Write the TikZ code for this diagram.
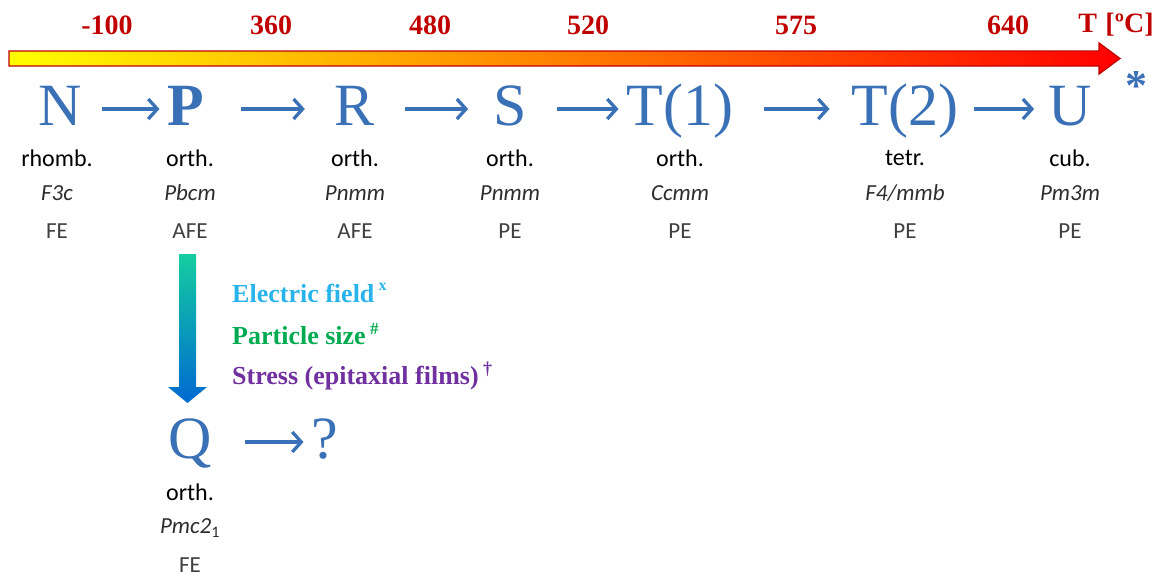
\documentclass[tikz,border=0pt]{standalone}
\usepackage{fontspec}
\setmainfont{Liberation Serif}
\newfontfamily\calfont{Carlito}
\usetikzlibrary{arrows.meta}
\definecolor{myblue}{RGB}{58,112,182}
\definecolor{tred}{RGB}{192,0,0}
\definecolor{efblue}{RGB}{40,180,235}
\definecolor{psgreen}{RGB}{0,170,80}
\definecolor{stpurple}{RGB}{112,48,160}
\definecolor{dgray}{RGB}{45,45,45}
\definecolor{mgray}{RGB}{64,64,64}
\tikzset{
  big/.style={font=\fontsize{60}{60}\selectfont, text=myblue, anchor=base, inner sep=0pt, text height=44pt, text depth=14pt},
  temp/.style={font=\fontsize{28}{28}\bfseries\selectfont, text=tred, inner sep=0pt},
  sys/.style={font=\calfont\fontsize{24}{24}\selectfont, text=black, inner sep=0pt},
  grp/.style={font=\calfont\itshape\fontsize{23}{23}\selectfont, text=dgray, inner sep=0pt},
  fe/.style={font=\calfont\fontsize{23}{23}\selectfont, text=mgray, inner sep=0pt},
  cond/.style={font=\fontsize{26}{26}\bfseries\selectfont, anchor=west, inner sep=0pt},
  arr/.style={draw=myblue, line width=3.3pt, -{Straight Barb[length=9pt,width=20pt,line width=3.3pt]}},
}
\begin{document}
\begin{tikzpicture}[x=1pt,y=-1pt]
\useasboundingbox (0,0) rectangle (1170,581);
% temperature labels
\node[temp] (t1) at (107,25) {-100};
\node[temp] (t2) at (271,25) {360};
\node[temp] (t3) at (430,25) {480};
\node[temp] (t4) at (588,25) {520};
\node[temp] (t5) at (796,25) {575};
\node[temp] (t6) at (1008,25) {640};
\node[temp] (tu) at (1116,25) {T\hspace{0.3em}[ºC]};
% gradient arrow
\shade[left color=yellow, middle color=orange!90!yellow, right color=red, draw=tred, line width=1.3pt]
  (9,51) -- (1099,51) -- (1099,43) -- (1120,58.5) -- (1099,74) -- (1099,66) -- (9,66) -- cycle;
% big letters
\node[big] (N) at (60,125) {N};
\node[big] (P) at (186,125) {\bfseries P};
\node[big] (R) at (355,125) {R};
\node[big] (S) at (510,125) {S};
\node[big] (T1) at (680,125) {T(1)};
\node[big] (T2) at (905,125) {T(2)};
\node[big] (U) at (1070,125) {U};
\node[font=\fontsize{44}{44}\bfseries\selectfont, text=myblue, inner sep=0pt] (star) at (1136,86) {*};
% arrows
\draw[arr, shorten <=20pt, shorten >=8pt] ([yshift=1pt]N.east) -- ([yshift=1pt]P.west);
\draw[arr, shorten <=36pt, shorten >=30pt] ([yshift=1pt]P.east) -- ([yshift=1pt]R.west);
\draw[arr, shorten <=30pt, shorten >=25pt] ([yshift=1pt]R.east) -- ([yshift=1pt]S.west);
\draw[arr, shorten <=30pt, shorten >=8pt] ([yshift=1pt]S.east) -- ([yshift=1pt]T1.west);
\draw[arr, shorten <=30pt, shorten >=22pt] ([yshift=1pt]T1.east) -- ([yshift=1pt]T2.west);
\draw[arr, shorten <=15pt, shorten >=14pt] ([yshift=1pt]T2.east) -- ([yshift=1pt]U.west);
% crystal systems
\node[sys] (sN) at (57,158) {rhomb.};
\node[sys] (sP) at (190,158) {orth.};
\node[sys] (sR) at (355,158) {orth.};
\node[sys] (sS) at (510,158) {orth.};
\node[sys] (sT1) at (680,158) {orth.};
\node[sys] (sT2) at (905,158) {tetr.};
\node[sys] (sU) at (1070,158) {cub.};
% space groups
\node[grp] (gN) at (57,193) {F3c};
\node[grp] (gP) at (190,193) {Pbcm};
\node[grp] (gR) at (355,193) {Pnmm};
\node[grp] (gS) at (510,193) {Pnmm};
\node[grp] (gT1) at (680,193) {Ccmm};
\node[grp] (gT2) at (905,193) {F4/mmb};
\node[grp] (gU) at (1070,193) {Pm3m};
% ferroic
\node[fe] (fN) at (57,231) {FE};
\node[fe] (fP) at (190,231) {AFE};
\node[fe] (fR) at (355,231) {AFE};
\node[fe] (fS) at (510,231) {PE};
\node[fe] (fT1) at (680,231) {PE};
\node[fe] (fT2) at (905,231) {PE};
\node[fe] (fU) at (1070,231) {PE};
% down arrow
\shade[top color={rgb,255:red,20;green,205;blue,160}, middle color={rgb,255:red,30;green,185;blue,225}, bottom color={rgb,255:red,0;green,105;blue,210}]
  (179,254) -- (196,254) -- (196,387) -- (207,387) -- (187.5,403) -- (168,387) -- (179,387) -- cycle;
% conditions
\node[cond, text=efblue] (ef) at (232,293) {Electric field\,\raisebox{0.45em}{\fontsize{16}{16}\selectfont x}};
\node[cond, text=psgreen] (ps) at (232,334) {Particle size\,\raisebox{0.4em}{\fontsize{17}{17}\selectfont \#}};
\node[cond, text=stpurple] (st) at (232,376) {Stress (epitaxial films)\,\raisebox{0.4em}{\fontsize{18}{18}\selectfont †}};
% Q branch
\node[big] (Q) at (190,458) {Q};
\node[big] (qm) at (325,458) {?};
\draw[arr, shorten <=33pt, shorten >=8pt] ([yshift=1pt]Q.east) -- ([yshift=1pt]qm.west);
\node[sys] (sQ) at (190,492) {orth.};
\node[grp] (gQ) at (190,528) {Pmc2\textsubscript{\upshape 1}};
\node[fe] (fQ) at (190,565) {FE};
\end{tikzpicture}
\end{document}
